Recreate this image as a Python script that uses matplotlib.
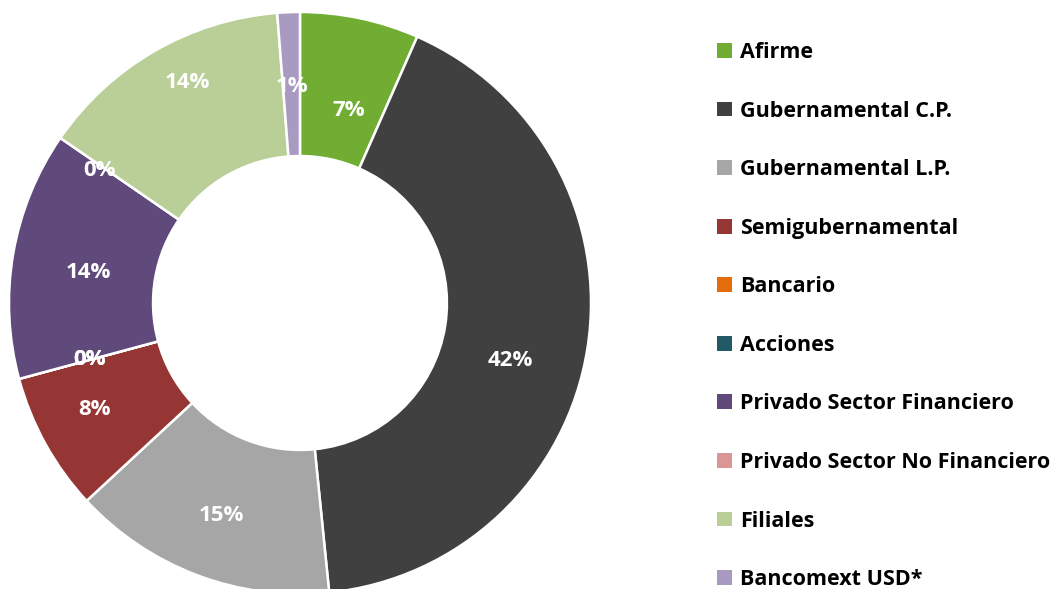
import matplotlib
matplotlib.use('Agg')
import matplotlib.pyplot as plt
from matplotlib.patches import Patch

categories = ['Afirme', 'Gubernamental C.P.', 'Gubernamental L.P.', 'Semigubernamental',
              'Bancario', 'Acciones', 'Privado Sector Financiero',
              'Privado Sector No Financiero', 'Filiales', 'Bancomext USD*']
values = [6.6, 41.8, 14.7, 7.7, 0.0, 0.0, 13.8, 0.0, 14.15, 1.25]
colors = ['#70AD32', '#404040', '#A6A6A6', '#963634', '#E46C0A', '#215967',
          '#604A7B', '#D99694', '#BACF98', '#A99AC2']

# manual label nudges (pixels, x right / y down) to mimic the original placement
label_nudge = [(4, 21), (-5, 23), (-1, 8), (-15, 1), (0, 0), (0, 0),
               (3, 6), (-21, -9), (-4, -31), (1, 2)]

plt.rcParams['font.family'] = ['Open Sans', 'DejaVu Sans']

fig = plt.figure(figsize=(10.62, 5.89), dpi=100)
R_PX = 291
ax = fig.add_axes([9 / 1062, -5 / 589, 2 * R_PX / 1062, 2 * R_PX / 589])

wedges, texts, autotexts = ax.pie(
    values, colors=colors, startangle=90, counterclock=False, radius=1,
    wedgeprops=dict(width=0.495, edgecolor='white', linewidth=1.8),
    autopct=lambda p: '%d%%' % round(p), pctdistance=0.75,
    textprops=dict(color='white', fontsize=16, fontweight='bold'))
for t, (dx, dy) in zip(autotexts, label_nudge):
    x, y = t.get_position()
    t.set_position((x + dx / R_PX, y - dy / R_PX))
ax.set_xlim(-1, 1)
ax.set_ylim(-1, 1)
ax.set_aspect('equal')
ax.axis('off')

handles = [Patch(facecolor=c, edgecolor='none') for c in colors]
fig.legend(handles, categories, loc='upper left', bbox_to_anchor=(717 / 1062, 1 - 42 / 589),
           frameon=False, prop=dict(size=15.5, weight='bold'), handlelength=0.68,
           handleheight=0.68, handletextpad=0.38, labelspacing=1.745, borderpad=0,
           borderaxespad=0)

fig.savefig('out.png', dpi=100)
